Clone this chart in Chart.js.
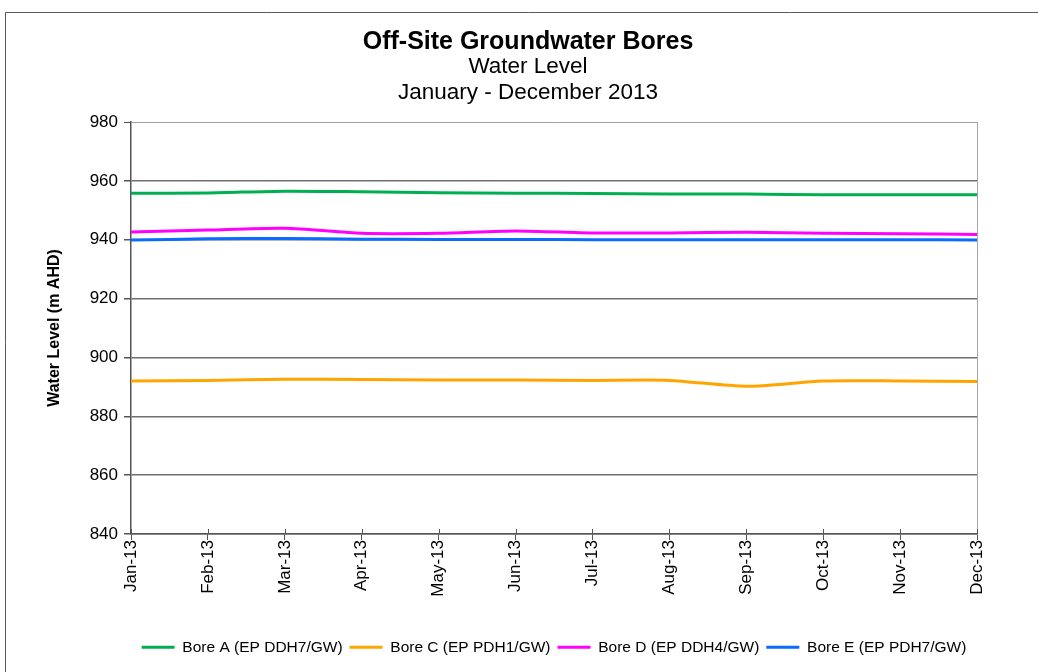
<!DOCTYPE html>
<html>
<head>
<meta charset="utf-8">
<script src="https://cdn.jsdelivr.net/npm/chart.js@4/dist/chart.umd.min.js"></script>
<style>
  html, body { margin: 0; padding: 0; background: #fff; overflow: hidden; }
  #wrap { position: absolute; left: 5px; top: 12px; width: 1046px; height: 660px; }
</style>
</head>
<body>
<div id="wrap"><canvas id="c" width="1046" height="660"></canvas></div>
<script>
const months = ['Jan-13','Feb-13','Mar-13','Apr-13','May-13','Jun-13','Jul-13','Aug-13','Sep-13','Oct-13','Nov-13','Dec-13'];
const boreA = [955.8, 955.9, 956.5, 956.3, 956.0, 955.8, 955.7, 955.5, 955.5, 955.3, 955.3, 955.3];
const boreC = [892.0, 892.2, 892.6, 892.5, 892.3, 892.3, 892.2, 892.2, 890.2, 892.0, 892.0, 891.8];
const boreD = [942.6, 943.3, 943.9, 942.2, 942.2, 943.0, 942.3, 942.3, 942.5, 942.2, 942.0, 941.8];
const boreE = [939.9, 940.3, 940.4, 940.2, 940.1, 940.1, 940.0, 940.0, 940.0, 940.0, 940.0, 939.9];
const seriesNames = ['Bore A (EP DDH7/GW)', 'Bore C (EP PDH1/GW)', 'Bore D (EP DDH4/GW)', 'Bore E (EP PDH7/GW)'];
const seriesColors = ['#00b050', '#ffa500', '#ff00ff', '#0a6cff'];
const titleText = 'Off-Site Groundwater Bores';
const subtitleText = ['Water Level', 'January - December 2013'];
const yTitle = 'Water Level (m AHD)';

const FONT = "'Liberation Sans', Arial, sans-serif";

const frame = {
  id: 'frame',
  beforeDraw(chart) {
    const ctx = chart.ctx;
    ctx.save();
    ctx.strokeStyle = '#5a5a5a';
    ctx.lineWidth = 1;
    ctx.beginPath();
    ctx.moveTo(0.5, chart.height);
    ctx.lineTo(0.5, 0.5);
    ctx.lineTo(chart.width, 0.5);
    ctx.stroke();
    ctx.restore();
  },
  afterDatasetsDraw(chart) {
    const a = chart.chartArea;
    const ctx = chart.ctx;
    const xs = chart.scales.x;
    ctx.save();
    ctx.strokeStyle = '#a6a6a6';
    ctx.lineWidth = 1;
    ctx.beginPath();
    ctx.moveTo(Math.round(a.right) + 0.5, a.top);
    ctx.lineTo(Math.round(a.right) + 0.5, a.bottom);
    ctx.stroke();
    // small tick marks crossing the category axis upward
    ctx.strokeStyle = '#555';
    ctx.beginPath();
    xs.ticks.forEach((t, i) => {
      const px = Math.round(xs.getPixelForTick(i)) + 0.5;
      ctx.moveTo(px, a.bottom);
      ctx.lineTo(px, a.bottom - 5);
    });
    ctx.stroke();
    ctx.restore();
  }
};

const datasets = [boreA, boreC, boreD, boreE].map((d, i) => ({
  label: seriesNames[i],
  data: d,
  borderColor: seriesColors[i],
  backgroundColor: seriesColors[i],
  borderWidth: 3,
  pointRadius: 0,
  pointHoverRadius: 0,
  tension: 0.25,
  pointStyle: 'line',
  yAxisID: 'y'
}));

new Chart(document.getElementById('c'), {
  type: 'line',
  data: { labels: months, datasets },
  plugins: [frame],
  options: {
    responsive: false,
    devicePixelRatio: 1,
    animation: false,
    layout: { padding: { left: 0, right: 0, top: 0, bottom: 7 } },
    plugins: {
      title: {
        display: true,
        text: titleText,
        color: '#000',
        font: { family: FONT, size: 25, weight: 'bold', lineHeight: 21 / 25 },
        padding: { top: 19.5, bottom: 0 }
      },
      subtitle: {
        display: true,
        text: subtitleText,
        color: '#000',
        font: { family: FONT, size: 22.5, weight: 'normal', lineHeight: 26 / 22.5 },
        padding: { top: 1.5, bottom: 16 }
      },
      legend: {
        display: true,
        position: 'bottom',
        fullSize: false,
        labels: {
          color: '#000',
          font: { family: FONT, size: 15.5 },
          usePointStyle: true,
          pointStyleWidth: 33,
          padding: 7
        }
      },
      tooltip: { enabled: false }
    },
    scales: {
      x: {
        offset: false,
        grid: {
          display: true,
          drawOnChartArea: false,
          drawTicks: true,
          tickLength: 6,
          color: '#555',
          tickColor: '#555'
        },
        border: { display: true, color: '#555', width: 1.5 },
        ticks: {
          color: '#000',
          font: { family: FONT, size: 17 },
          minRotation: 90,
          maxRotation: 90,
          padding: 0,
          autoSkip: false
        },
        afterFit(scale) { scale.height = 98.5; }
      },
      y: {
        position: 'left',
        min: 840,
        max: 980,
        ticks: {
          stepSize: 20,
          color: '#000',
          font: { family: FONT, size: 17 },
          padding: 6
        },
        grid: {
          color: (c) => (c.tick && c.tick.value === 980) ? '#a0a0a0' : '#707070',
          lineWidth: (c) => (c.tick && c.tick.value === 980) ? 1 : 1.5,
          tickLength: 7,
          tickColor: '#555'
        },
        border: { display: true, color: '#555', width: 1.5 },
        title: {
          display: true,
          text: yTitle,
          color: '#000',
          font: { family: FONT, size: 16, weight: 'bold' },
          padding: { top: 40, bottom: 0 }
        },
        afterFit(scale) { scale.width = 126; }
      },
      spacer: {
        position: 'right',
        display: true,
        min: 840,
        max: 980,
        grid: { display: false, drawTicks: false },
        border: { display: false },
        ticks: { display: false },
        afterFit(scale) { scale.width = 74; }
      }
    }
  }
});
</script>
</body>
</html>
